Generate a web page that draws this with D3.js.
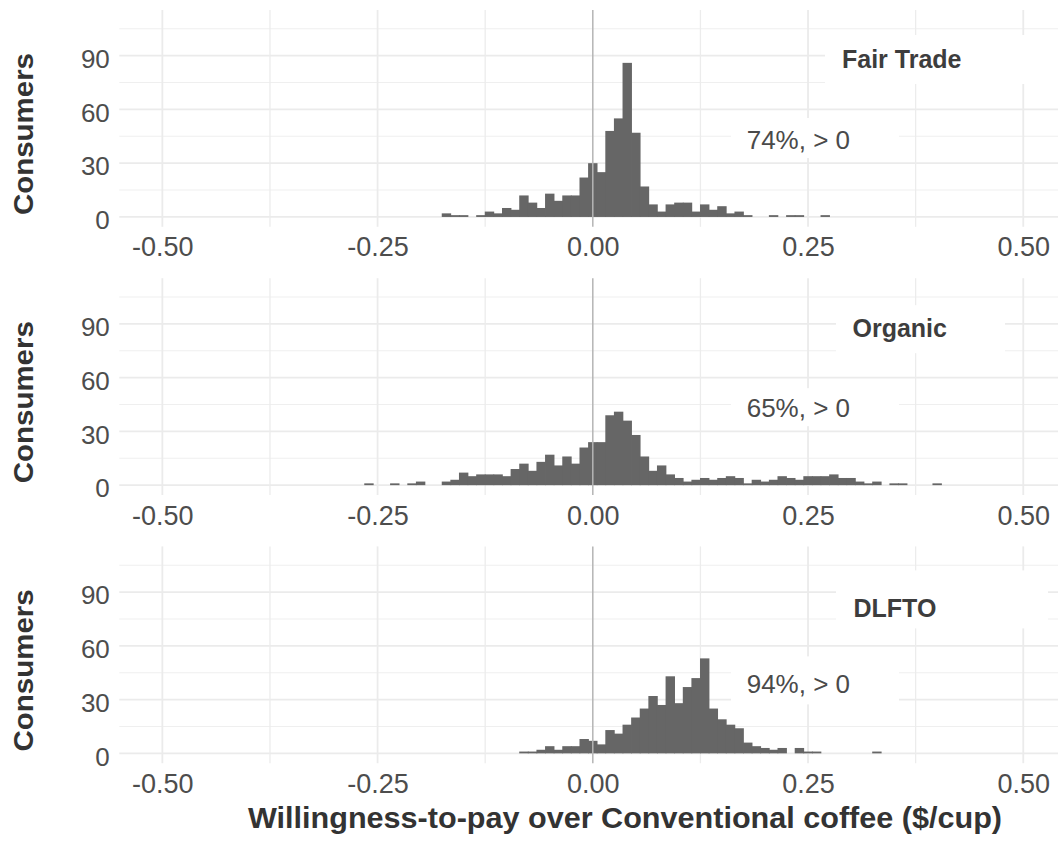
<!DOCTYPE html>
<html>
<head>
<meta charset="utf-8">
<script src="https://cdn.jsdelivr.net/npm/d3@7"></script>
<style>
  body { margin: 0; background: #fff; }
  svg { display: block; font-family: "Liberation Sans", Arial, sans-serif; }
</style>
</head>
<body>
<div id="chart"></div>
<script>
// histogram counts, bin width 0.01, bins centred on multiples of 0.01
const binWidth = 0.01;

const fairTradeStart = -0.17;
const fairTradeCounts = [2, 1, 1, 0, 1, 3, 2, 5, 4, 12, 8, 5, 13, 9, 12, 12, 22, 30, 25, 48,
  55, 86, 47, 17, 7, 3, 7, 8, 8, 3, 7, 4, 6, 2, 3, 1, 0, 0, 1, 0, 1, 1, 0, 0, 1];

const organicStart = -0.26;
const organicCounts = [1, 0, 0, 1, 0, 1, 2, 0, 0, 2, 3, 7, 5, 6, 6, 6, 5, 9, 12, 8, 13, 17, 11,
  16, 12, 21, 24, 24, 39, 41, 36, 28, 16, 8, 11, 6, 4, 2, 3, 4, 3, 4, 5, 4, 1, 3, 2, 3, 5, 4,
  3, 5, 5, 5, 6, 4, 4, 2, 1, 2, 0, 1, 1, 0, 0, 0, 1];

const dlftoStart = -0.08;
const dlftoCounts = [1, 1, 2, 4, 2, 4, 4, 8, 7, 5, 13, 11, 16, 20, 25, 32, 27, 43, 28, 37, 42,
  53, 25, 19, 16, 14, 6, 4, 3, 2, 3, 0, 3, 1, 1, 0, 0, 0, 0, 0, 0, 1];

const panelNames = ["Fair Trade", "Organic", "DLFTO"];
const panelShares = ["74%, > 0", "65%, > 0", "94%, > 0"];
const yTicks = [0, 30, 60, 90];
const yMinor = [15, 45, 75, 105];
const xTicks = [-0.5, -0.25, 0, 0.25, 0.5];
const xMinor = [-0.375, -0.125, 0.125, 0.375];

// layout
const W = 1058, H = 854;
const plotLeft = 119.3, plotRight = 1066.3;
const panelTop0 = 10, panelStep = 268.2, panelH = 216.8;
// white label boxes and text anchors, relative to each panel top
const titleBox = [[825, 25, 240, 49], [836, 27, 169, 48], [836, 24, 212, 58]];
const titlePos = [[842, 58.3], [852.5, 59.1], [853.5, 70.3]];
const shareBox = [[731, 108, 168, 40], [731, 110, 168, 38], [731, 110, 168, 48]];
const shareY = [139.3, 138.5, 146.9];

const series = [
  {start: fairTradeStart, counts: fairTradeCounts},
  {start: organicStart, counts: organicCounts},
  {start: dlftoStart, counts: dlftoCounts}
];

const svg = d3.select("#chart").append("svg")
  .attr("width", W).attr("height", H);

// shared x scale
const x = d3.scaleLinear().domain([-0.55, 0.55]).range([plotLeft, plotRight]);
const y = d3.scaleLinear().domain([-5.5, 115.5]).range([panelH, 0]);

series.forEach(function(s, i) {
  const g = svg.append("g")
    .attr("transform", `translate(0,${panelTop0 + i * panelStep})`);

  // grid
  const grid = g.append("g");
  grid.selectAll(".hmin").data(yMinor).enter().append("line")
    .attr("x1", plotLeft).attr("x2", plotRight)
    .attr("y1", d => y(d)).attr("y2", d => y(d))
    .attr("stroke", "#efefef").attr("stroke-width", 1.1);
  grid.selectAll(".hmaj").data(yTicks).enter().append("line")
    .attr("x1", plotLeft).attr("x2", plotRight)
    .attr("y1", d => y(d)).attr("y2", d => y(d))
    .attr("stroke", "#ebebeb").attr("stroke-width", 1.8);
  grid.selectAll(".vmin").data(xMinor).enter().append("line")
    .attr("x1", d => x(d)).attr("x2", d => x(d))
    .attr("y1", 0).attr("y2", panelH)
    .attr("stroke", "#ececec").attr("stroke-width", 1.3);
  grid.selectAll(".vmaj").data(xTicks.filter(d => d !== 0)).enter().append("line")
    .attr("x1", d => x(d)).attr("x2", d => x(d))
    .attr("y1", 0).attr("y2", panelH)
    .attr("stroke", "#ebebeb").attr("stroke-width", 1.8);

  // white boxes behind the labels
  const tb = titleBox[i], sb = shareBox[i];
  g.append("rect").attr("x", tb[0]).attr("y", tb[1])
    .attr("width", tb[2]).attr("height", tb[3]).attr("fill", "#fff");
  g.append("rect").attr("x", sb[0]).attr("y", sb[1])
    .attr("width", sb[2]).attr("height", sb[3]).attr("fill", "#fff");

  // bars (slight overlap so neighbouring bins don't show seams)
  const bins = s.counts.map((c, k) => ({mid: s.start + k * binWidth, n: c}))
    .filter(d => d.n > 0);
  g.append("g").selectAll("rect").data(bins).enter().append("rect")
    .attr("x", d => x(d.mid - binWidth / 2) - 0.4)
    .attr("width", d => x(d.mid + binWidth / 2) - x(d.mid - binWidth / 2) + 0.8)
    .attr("y", d => y(d.n))
    .attr("height", d => y(0) - y(d.n))
    .attr("fill", "#666666");

  // zero line
  g.append("line")
    .attr("x1", x(0)).attr("x2", x(0))
    .attr("y1", 0).attr("y2", panelH)
    .attr("stroke", "#b5b5b5").attr("stroke-width", 1.5);

  // axes
  const yAxis = g.append("g")
    .attr("transform", `translate(${plotLeft},0)`)
    .call(d3.axisLeft(y).tickValues(yTicks).tickSize(0).tickPadding(9.5));
  yAxis.select(".domain").remove();
  yAxis.selectAll("text")
    .attr("dy", "0.45em")
    .attr("fill", "#4d4d4d")
    .style("font-size", "26px")
    .style("font-family", "'Liberation Sans', Arial, sans-serif");

  const xAxis = g.append("g")
    .attr("transform", `translate(0,${panelH})`)
    .call(d3.axisBottom(x).tickValues(xTicks).tickSize(0).tickPadding(10.5)
      .tickFormat(d => d.toFixed(2)));
  xAxis.select(".domain").remove();
  xAxis.selectAll("text")
    .attr("fill", "#4d4d4d")
    .style("font-size", "27px")
    .style("font-family", "'Liberation Sans', Arial, sans-serif");

  // panel title and share label
  g.append("text")
    .attr("x", titlePos[i][0]).attr("y", titlePos[i][1])
    .text(panelNames[i])
    .attr("fill", "#3d3d3d")
    .attr("font-weight", 700)
    .attr("font-size", "25px");
  g.append("text")
    .attr("x", 746.7).attr("y", shareY[i])
    .text(panelShares[i])
    .attr("fill", "#4a4a4a")
    .attr("font-size", "26px");

  // y axis title
  g.append("text")
    .attr("transform", `translate(33.3,${114 - panelTop0 + 20}) rotate(-90)`)
    .text("Consumers")
    .style("text-anchor", "middle")
    .attr("fill", "#333")
    .attr("font-weight", 700)
    .attr("font-size", "28px")
    .attr("textLength", 162)
    .attr("lengthAdjust", "spacingAndGlyphs");
});

// x axis title
svg.append("text")
  .attr("x", 625).attr("y", 828.3)
  .text("Willingness-to-pay over Conventional coffee ($/cup)")
  .style("text-anchor", "middle")
  .attr("fill", "#333")
  .attr("font-weight", 700)
  .attr("font-size", "29px")
  .attr("textLength", 754)
  .attr("lengthAdjust", "spacingAndGlyphs");
</script>
</body>
</html>
